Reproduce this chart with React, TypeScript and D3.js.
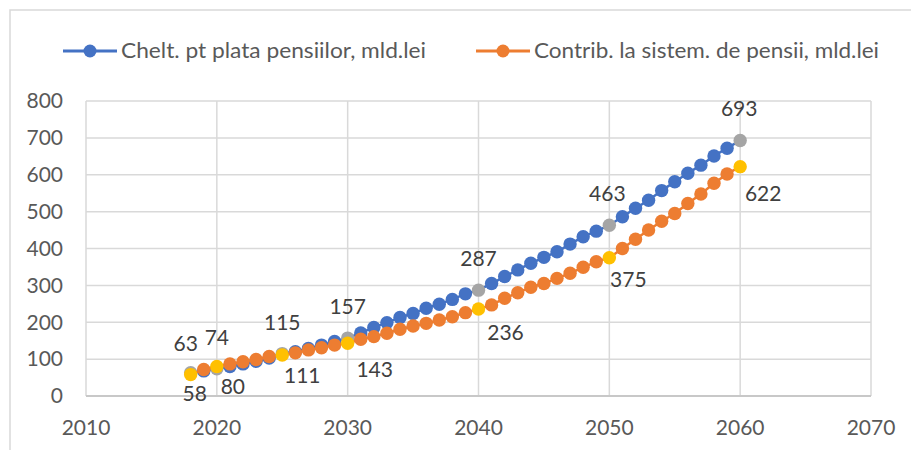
import React from "react";
import * as d3 from "d3";

// years on the x axis
const years = [
  2018, 2019, 2020, 2021, 2022, 2023, 2024, 2025, 2026, 2027, 2028, 2029, 2030,
  2031, 2032, 2033, 2034, 2035, 2036, 2037, 2038, 2039, 2040,
  2041, 2042, 2043, 2044, 2045, 2046, 2047, 2048, 2049, 2050,
  2051, 2052, 2053, 2054, 2055, 2056, 2057, 2058, 2059, 2060,
];

// Chelt. pt plata pensiilor, mld.lei
const cheltuieli = [
  63, 68, 74, 80, 87, 94, 103, 115, 120, 129, 138, 148, 157,
  171, 186, 199, 213, 224, 238, 249, 262, 277, 287,
  305, 324, 342, 360, 376, 391, 412, 432, 447, 463,
  486, 509, 531, 557, 581, 604, 626, 651, 672, 693,
];

// Contrib. la sistem. de pensii, mld.lei
const contributii = [
  58, 72, 80, 87, 93, 99, 107, 111, 117, 125, 131, 138, 143,
  154, 161, 170, 181, 190, 197, 206, 215, 226, 236,
  247, 265, 280, 295, 305, 319, 333, 349, 364, 375,
  400, 425, 450, 474, 495, 522, 548, 577, 602, 622,
];

// years that carry a data label (and a highlighted marker)
const labelYears = [2018, 2020, 2025, 2030, 2040, 2050, 2060];

const xTicks = [2010, 2020, 2030, 2040, 2050, 2060, 2070];
const yTicks = [0, 100, 200, 300, 400, 500, 600, 700, 800];

const legendNames = ["Chelt. pt plata pensiilor, mld.lei", "Contrib. la sistem. de pensii, mld.lei"];

const W = 911;
const H = 450;
const FONT = "Lato, 'Open Sans', sans-serif";

const App = () => {
  const x = d3.scaleLinear().domain([2010, 2070]).range([86, 871]);
  const y = d3.scaleLinear().domain([0, 800]).range([396, 101]);

  const line = d3
    .line<number>()
    .x((d, i) => x(years[i]))
    .y((d) => y(d));

  const series = [
    { values: cheltuieli, color: "#4472c4", hi: "#a5a5a5", dx: [-5, 0, 0, 0, 0, -2, -1], dy: [-29, -31, -31, -31, -32, -32, -32] },
    { values: contributii, color: "#ed7d31", hi: "#ffc000", dx: [4, 16, 20, 27, 27, 19, 23], dy: [19, 20, 21, 26, 24, 22, 27] },
  ];

  return (
    <svg width={W} height={H} style={{ position: "absolute", left: 0, top: 0, background: "#fff" }} fontFamily={FONT}>
      {/* chart frame */}
      <rect x={10} y={10} width={W + 20} height={H + 20} fill="#fff" stroke="#d9d9d9" strokeWidth={1.5} />

      {/* legend */}
      {legendNames.map((name, i) => {
        const lx = i === 0 ? 63 : 476;
        const tw = i === 0 ? 305 : 345;
        return (
          <g key={name}>
            <line x1={lx} x2={lx + 54} y1={51} y2={51} stroke={series[i].color} strokeWidth={3} />
            <circle cx={lx + 27} cy={51} r={6.5} fill={series[i].color} />
            <text x={lx + 58} y={51} dy="0.35em" fontSize={21} fill="#595959" textLength={tw} lengthAdjust="spacingAndGlyphs">
              {name}
            </text>
          </g>
        );
      })}

      {/* gridlines */}
      {yTicks.map((t) => (
        <line key={"h" + t} x1={x(2010)} x2={x(2070)} y1={y(t)} y2={y(t)} stroke="#d9d9d9" strokeWidth={1.5} />
      ))}
      {xTicks.map((t) => (
        <line key={"v" + t} x1={x(t)} x2={x(t)} y1={y(800)} y2={y(0)} stroke="#d9d9d9" strokeWidth={1.5} />
      ))}
      <line x1={x(2010)} x2={x(2070)} y1={y(0)} y2={y(0)} stroke="#c8c8c8" strokeWidth={2} />

      {/* tick labels */}
      {yTicks.map((t) => (
        <text key={"yl" + t} x={63} y={y(t)} dy="0.35em" textAnchor="end" fontSize={21} fill="#595959">
          {t}
        </text>
      ))}
      {xTicks.map((t) => (
        <text key={"xl" + t} x={x(t)} y={428} dy="0.35em" textAnchor="middle" fontSize={21} fill="#595959">
          {t}
        </text>
      ))}

      {/* series */}
      {series.map((s, si) => (
        <g key={"s" + si}>
          <path d={line(s.values) || ""} fill="none" stroke={s.color} strokeWidth={2.5} />
          {s.values.map((v, i) => (
            <circle
              key={i}
              cx={x(years[i])}
              cy={y(v)}
              r={6.7}
              fill={labelYears.includes(years[i]) ? s.hi : s.color}
            />
          ))}
        </g>
      ))}

      {/* data labels */}
      {series.map((s, si) =>
        labelYears.map((yr, k) => {
          const v = s.values[years.indexOf(yr)];
          return (
            <text
              key={"dl" + si + yr}
              x={x(yr) + s.dx[k]}
              y={y(v) + s.dy[k]}
              dy="0.35em"
              textAnchor="middle"
              fontSize={21}
              fill="#404040"
            >
              {v}
            </text>
          );
        })
      )}
    </svg>
  );
};

export default App;
